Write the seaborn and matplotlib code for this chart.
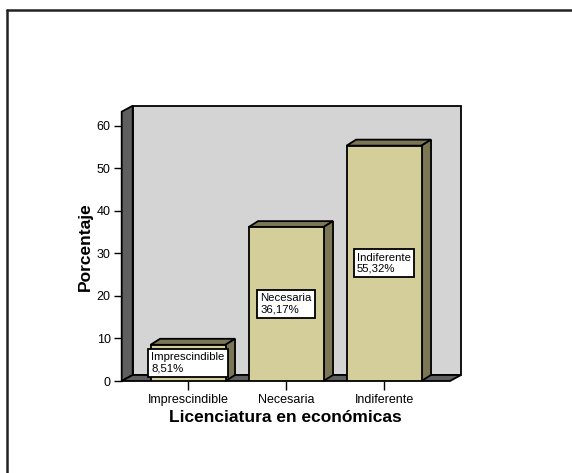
import matplotlib
matplotlib.use("Agg")
import matplotlib.pyplot as plt
from matplotlib.patches import Polygon
from matplotlib.lines import Line2D
import seaborn as sns
import pandas as pd

categories = ["Imprescindible", "Necesaria", "Indiferente"]
percentages = [8.51, 36.17, 55.32]
value_labels = ["8,51%", "36,17%", "55,32%"]
y_ticks = [0, 10, 20, 30, 40, 50, 60]

FRONT = "#d4ce9a"
SIDE = "#7b7655"
WALL = "#d4d4d4"
DARK = "#5f5f5f"

sns.set_theme(style="white")
plt.rcParams["font.family"] = ["Liberation Sans", "DejaVu Sans"]

fig = plt.figure(figsize=(5.72, 4.73), dpi=100)
ax = fig.add_axes([121.7 / 572, 92 / 473, 328.3 / 572, 269.3 / 473])

df = pd.DataFrame({"cat": categories, "pct": percentages})
sns.barplot(data=df, x="cat", y="pct", color=FRONT, saturation=1, width=0.765,
            edgecolor="black", linewidth=1.3, ax=ax, zorder=3)

xmin, xmax, ymax = -0.677, 2.673, 63.3
ax.set_xlim(xmin, xmax)
ax.set_ylim(0, ymax)

# pixel -> data units, for the fake 3D depth
p0, p1 = ax.transData.transform([(0, 0), (1, 1)])
px_x, px_y = p1[0] - p0[0], p1[1] - p0[1]
wdx, wdy = 11 / px_x, 6 / px_y
bdx, bdy = 9.5 / px_x, 6 / px_y

def add_poly(pts, fc, z):
    ax.add_patch(Polygon(pts, closed=True, fc=fc, ec="black", lw=1.3,
                         zorder=z, clip_on=False))

# back wall, left wall, floor
add_poly([(xmin + wdx, wdy), (xmax + wdx, wdy), (xmax + wdx, ymax + wdy), (xmin + wdx, ymax + wdy)], WALL, 0.5)
add_poly([(xmin, 0), (xmin, ymax), (xmin + wdx, ymax + wdy), (xmin + wdx, wdy)], DARK, 0.6)
add_poly([(xmin, 0), (xmax, 0), (xmax + wdx, wdy), (xmin + wdx, wdy)], DARK, 0.7)

# bar tops and sides
for bar in ax.patches[:len(categories)]:
    x0 = bar.get_x()
    x1 = x0 + bar.get_width()
    h = bar.get_height()
    add_poly([(x0, h), (x1, h), (x1 + bdx, h + bdy), (x0 + bdx, h + bdy)], SIDE, 2)
    add_poly([(x1, 0), (x1, h), (x1 + bdx, h + bdy), (x1 + bdx, bdy)], SIDE, 2)

ax.set_xlim(xmin, xmax)
ax.set_ylim(0, ymax)

# value boxes
for i, (cat, v, lab) in enumerate(zip(categories, percentages, value_labels)):
    ax.text(i, v / 2, f"{cat}\n{lab}", ha="center", va="center", multialignment="left",
            fontsize=8.2, color="black", linespacing=1.15, zorder=5,
            bbox=dict(boxstyle="square,pad=0.3", fc="white", ec="black", lw=1.3))

for s in ax.spines.values():
    s.set_visible(False)
ax.set_yticks(y_ticks)
ax.tick_params(axis="y", left=True, length=6, width=1, color="black", labelsize=9,
               labelcolor="black", pad=2)
ax.tick_params(axis="x", bottom=True, length=6.5, width=1, color="black", labelsize=9,
               labelcolor="black", pad=3)
ax.set_xlabel("Licenciatura en económicas", fontsize=12.5, fontweight="bold",
              color="black", labelpad=3)
ax.set_ylabel("Porcentaje", fontsize=12.5, fontweight="bold", color="black", labelpad=3)

# frame lines of the original picture (top and left only)
fig.add_artist(Line2D([7 / 572, 1], [1 - 10 / 473] * 2, transform=fig.transFigure,
                      color="#222222", lw=1.8))
fig.add_artist(Line2D([7 / 572] * 2, [0, 1 - 10 / 473], transform=fig.transFigure,
                      color="#222222", lw=1.8))

fig.savefig("out.png", dpi=100)
